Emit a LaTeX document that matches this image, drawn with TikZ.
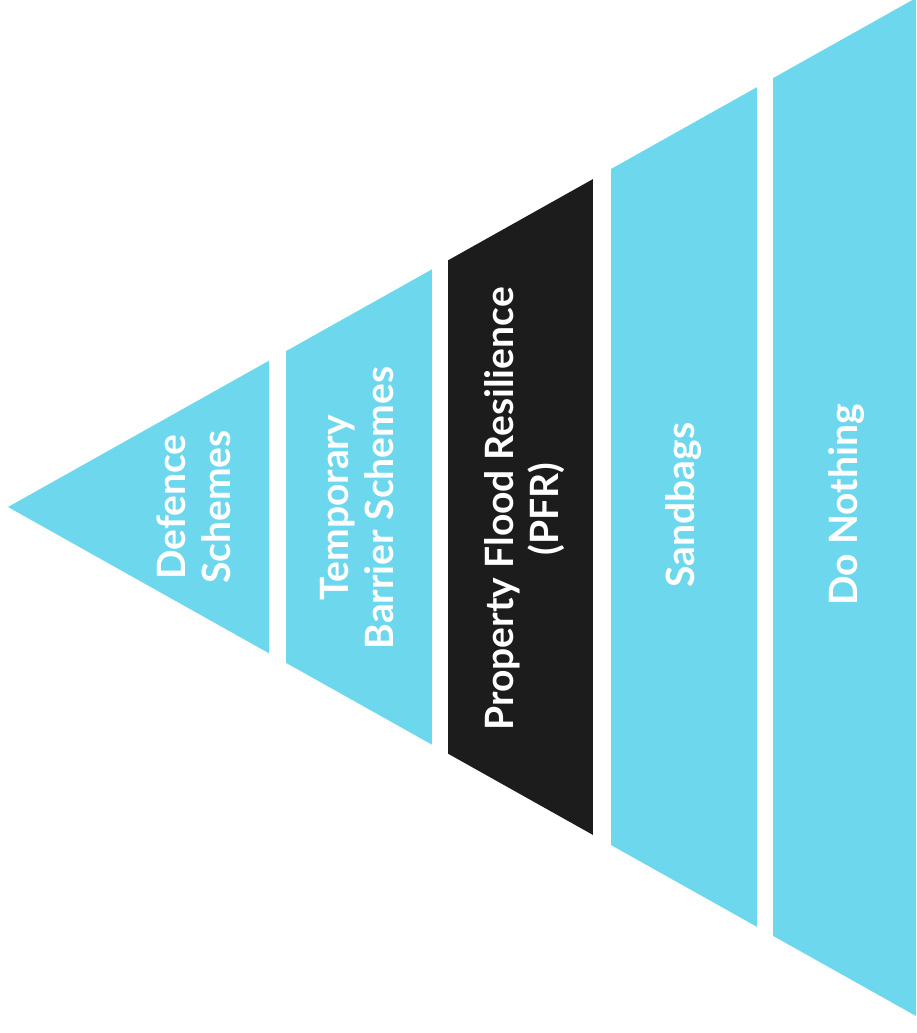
\documentclass[tikz,border=0pt]{standalone}
\usepackage{fontspec}
\setmainfont{Lato}
\definecolor{flood}{HTML}{6DD7EE}
\definecolor{pfrdark}{HTML}{1C1C1C}
\begin{document}
\begin{tikzpicture}[x=0.5pt,y=-0.5pt,
  band/.style={fill=flood},
  label/.style={rotate=90,align=center,text=white,
    font=\fontsize{19.5}{22.5}\selectfont\bfseries}]
\useasboundingbox (0,0) rectangle (916,1033);

% funnel outline, cut into bands
\begin{scope}
\clip (8,507) -- (916,-2) -- (916,1016) -- cycle;
\fill[band] (0,0) rectangle (269,1033);
\fill[band] (286,0) rectangle (432,1033);
\fill[pfrdark] (448,0) rectangle (593,1033);
\fill[band] (611,0) rectangle (757,1033);
\fill[band] (773,0) rectangle (916,1033);
\end{scope}

\node[label] (defence) at (194,507) {Defence\\Schemes};
\node[label] (temporary) at (357,508) {Temporary\\Barrier Schemes};
\node[label] (pfr) at (525,509) {Property Flood Resilience\\(PFR)};
\node[label] (sandbags) at (684,505) {Sandbags};
\node[label] (nothing) at (847,505) {Do Nothing};
\end{tikzpicture}
\end{document}
